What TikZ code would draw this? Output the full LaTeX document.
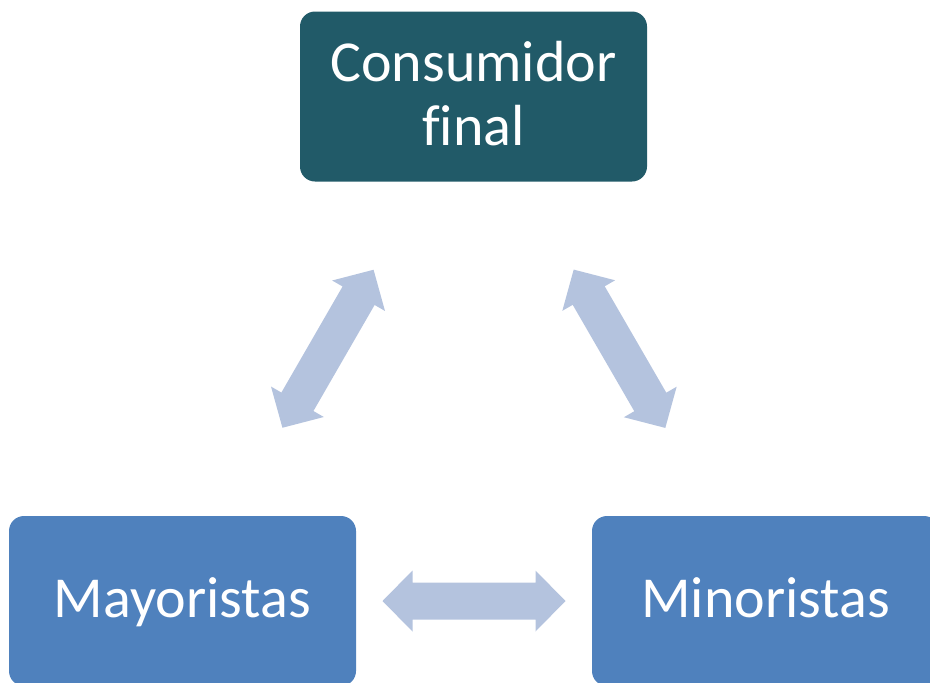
\documentclass[tikz,border=0pt]{standalone}
\usepackage{fontspec}
\setmainfont{Carlito}[Ligatures=NoCommon]
\usetikzlibrary{calc}

\definecolor{tealbox}{HTML}{215A68}
\definecolor{bluebox}{HTML}{4F81BD}
\definecolor{arrowblue}{HTML}{B4C3DE}

\begin{document}
\begin{tikzpicture}[x=1pt,y=-1pt,
    box/.style={rounded corners=15pt, minimum width=347pt, minimum height=170pt, inner sep=0pt,
        text=white, align=center, font=\fontsize{58}{64}\selectfont},
    link/.style={fill=arrowblue}]
    \useasboundingbox (0,0) rectangle (930,683);

    \node[box, fill=tealbox, text depth=6.5pt] (consumidor) at (473.5,96.5) {Consumidor\\final}; % top
    \node[box, fill=bluebox, text height=44pt, text depth=12pt] (mayoristas) at (182.5,601) {Mayoristas}; % bottom left
    \node[box, fill=bluebox, text height=44pt, text depth=12pt] (minoristas) at (765.5,601) {Minoristas}; % bottom right

    % double block arrows: tips 200pt from the centres, heads 30pt long
    \foreach \from/\to in {mayoristas/consumidor, consumidor/minoristas, mayoristas/minoristas} {
        \coordinate (tipA) at ($(\from.center)!200pt!(\to.center)$);
        \coordinate (backA) at ($(\from.center)!230pt!(\to.center)$);
        \coordinate (backB) at ($(\to.center)!230pt!(\from.center)$);
        \coordinate (tipB) at ($(\to.center)!200pt!(\from.center)$);
        \path[link] (tipA) -- ($(backA)!30.5pt!90:(\to.center)$) -- ($(backA)!18.5pt!90:(\to.center)$)
            -- ($(backB)!18.5pt!-90:(\from.center)$) -- ($(backB)!30.5pt!-90:(\from.center)$)
            -- (tipB) -- ($(backB)!30.5pt!90:(\from.center)$) -- ($(backB)!18.5pt!90:(\from.center)$)
            -- ($(backA)!18.5pt!-90:(\to.center)$) -- ($(backA)!30.5pt!-90:(\to.center)$) -- cycle;
    }
\end{tikzpicture}
\end{document}
